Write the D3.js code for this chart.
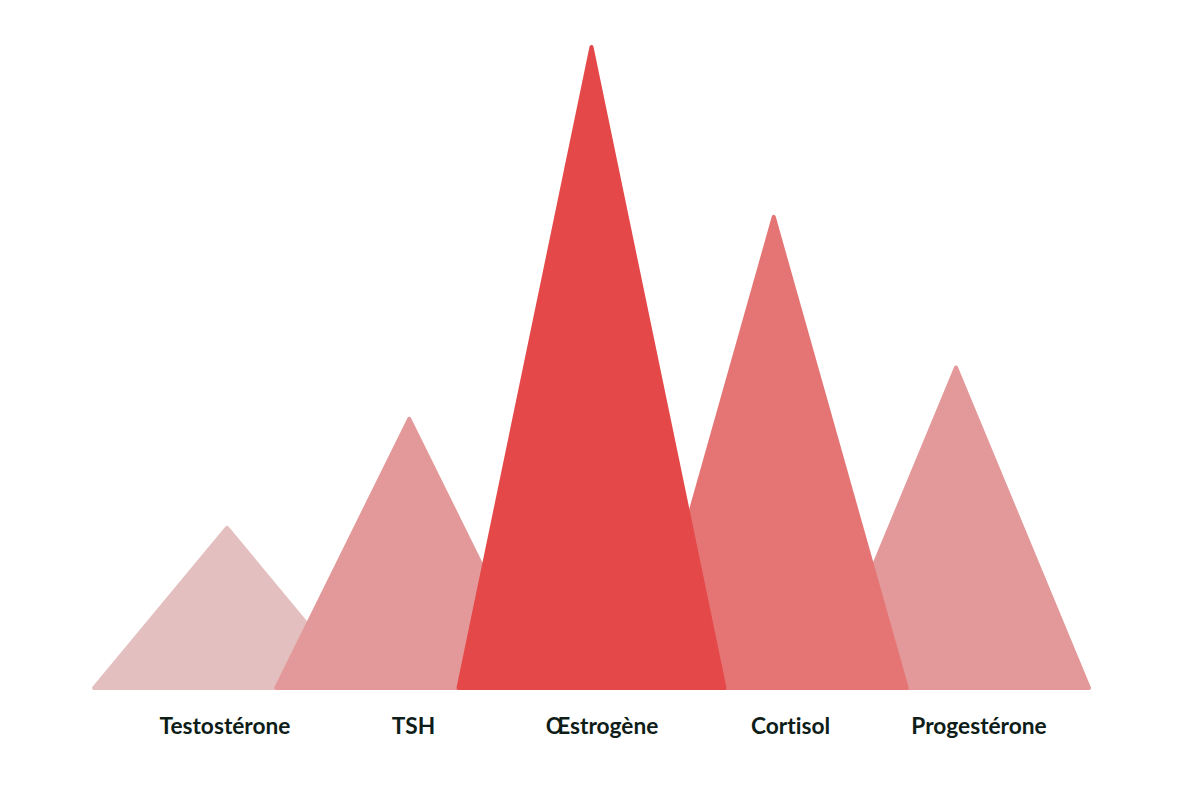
<!DOCTYPE html>
<html>
<head>
<meta charset="utf-8">
<script src="https://cdn.jsdelivr.net/npm/d3@7"></script>
<style>
  body { margin: 0; background: #fff; }
  svg { display: block; }
</style>
</head>
<body>
<div id="chart"></div>
<script>
var categories = ["Testostérone", "TSH", "Œstrogène", "Cortisol", "Progestérone"]
var values = [25, 42, 100, 73.5, 50]
var colors = ["#e4bfc0", "#e39999", "#e44848", "#e57575", "#e39999"]

var width = 1200, height = 808
var baseline = 688
var peakTop = 47
var halfBase = 133

var data = categories.map(function(c, i){
	return {name: c, value: values[i], color: colors[i]}
})

var svg = d3.select("#chart").
			append("svg").
			attr("width", width).
			attr("height", height)

//triangle centres
var x = d3.scalePoint().
			domain(categories).
			range([227, 956])

//label positions (axis sits a little wider than the peaks)
var xLabel = d3.scalePoint().
			domain(categories).
			range([225, 979])

var y = d3.scaleLinear().
			domain([0, d3.max(values)]).
			range([baseline, peakTop])

//draw small peaks first so the tall ones sit on top
var sorted = data.slice().sort(function(a, b){ return a.value - b.value })

svg.append("g").
	selectAll("path").
	data(sorted).
	enter().
	append("path").
	attr("d", function(d){
		var cx = x(d.name)
		return "M" + (cx - halfBase) + "," + y(0) +
			"L" + cx + "," + y(d.value) +
			"L" + (cx + halfBase) + "," + y(0) + "Z"
	}).
	style("fill", function(d){ return d.color }).
	style("stroke", function(d){ return d.color }).
	style("stroke-width", 4).
	style("stroke-linejoin", "round")

svg.append("g").
	selectAll("text").
	data(data).
	enter().
	append("text").
	attr("x", function(d){ return xLabel(d.name) }).
	attr("y", 734).
	attr("text-anchor", "middle").
	style("font-family", "Lato, sans-serif").
	style("font-weight", "bold").
	style("font-size", "22.7px").
	style("font-variant-ligatures", "none").
	style("fill", "#0e1d18").
	text(function(d){ return d.name })
</script>
</body>
</html>
